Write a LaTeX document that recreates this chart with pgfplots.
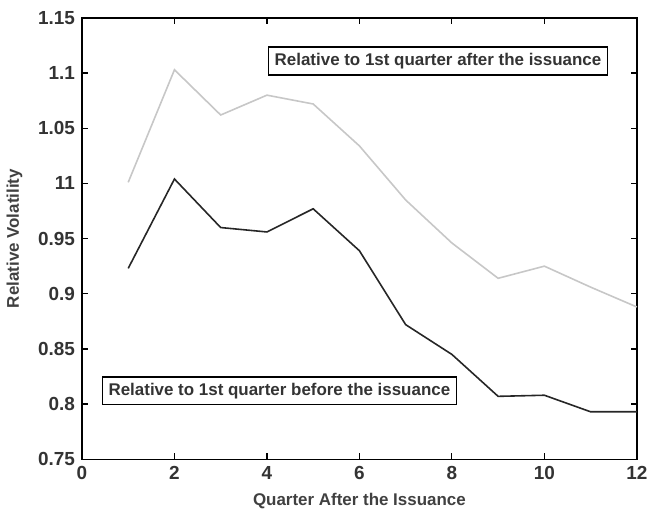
\documentclass[border=0pt]{standalone}
\usepackage{pgfplots}
\pgfplotsset{compat=1.18}
\usepackage{fontspec}
\setmainfont{Liberation Sans}
\begin{document}
\begin{tikzpicture}
\begin{axis}[
  scale only axis,
  width=278.5pt, height=221.5pt,
  xmin=0, xmax=12, ymin=0.75, ymax=1.15,
  xtick={0,2,4,6,8,10,12},
  ytick={0.75,0.8,0.85,0.9,0.95,1,1.05,1.1,1.15},
  yticklabels={0.75,0.8,0.85,0.9,0.95,11,1.05,1.1,1.15},
  /pgf/number format/assume math mode=true,
  ticklabel style={font=\bfseries\fontsize{9.5}{10}\selectfont, text=black!80},
  tick align=inside,
  major tick length=3pt,
  tick style={black, line width=0.6pt},
  axis line style={line width=0.7pt},
  xlabel={Quarter After the Issuance},
  ylabel={Relative Volatility},
  label style={font=\bfseries\fontsize{8.5}{9}\selectfont, text=black!75},
  xlabel style={yshift=0pt},
  ylabel style={yshift=1pt},
  clip=false,
]
\addplot[black!22, line width=0.8pt] coordinates {
(1,1.001) (2,1.103) (3,1.062) (4,1.080) (5,1.072) (6,1.034) (7,0.985) (8,0.946) (9,0.914) (10,0.925) (11,0.906) (12,0.888)};
\addplot[black!85, line width=0.8pt] coordinates {
(1,0.923) (2,1.004) (3,0.960) (4,0.956) (5,0.977) (6,0.939) (7,0.872) (8,0.845) (9,0.807) (10,0.808) (11,0.793) (12,0.793)};
\node[draw, line width=0.7pt, inner sep=3pt, font=\bfseries\fontsize{8.5}{9}\selectfont, text=black!80] at (axis cs:7.70,1.111) {Relative to 1st quarter after the issuance};
\node[draw, line width=0.7pt, inner sep=3pt, font=\bfseries\fontsize{8.5}{9}\selectfont, text=black!80] at (axis cs:4.27,0.812) {Relative to 1st quarter before the issuance};
\end{axis}
\path (current axis.north west) ++(0,9pt);
\end{tikzpicture}
\end{document}
